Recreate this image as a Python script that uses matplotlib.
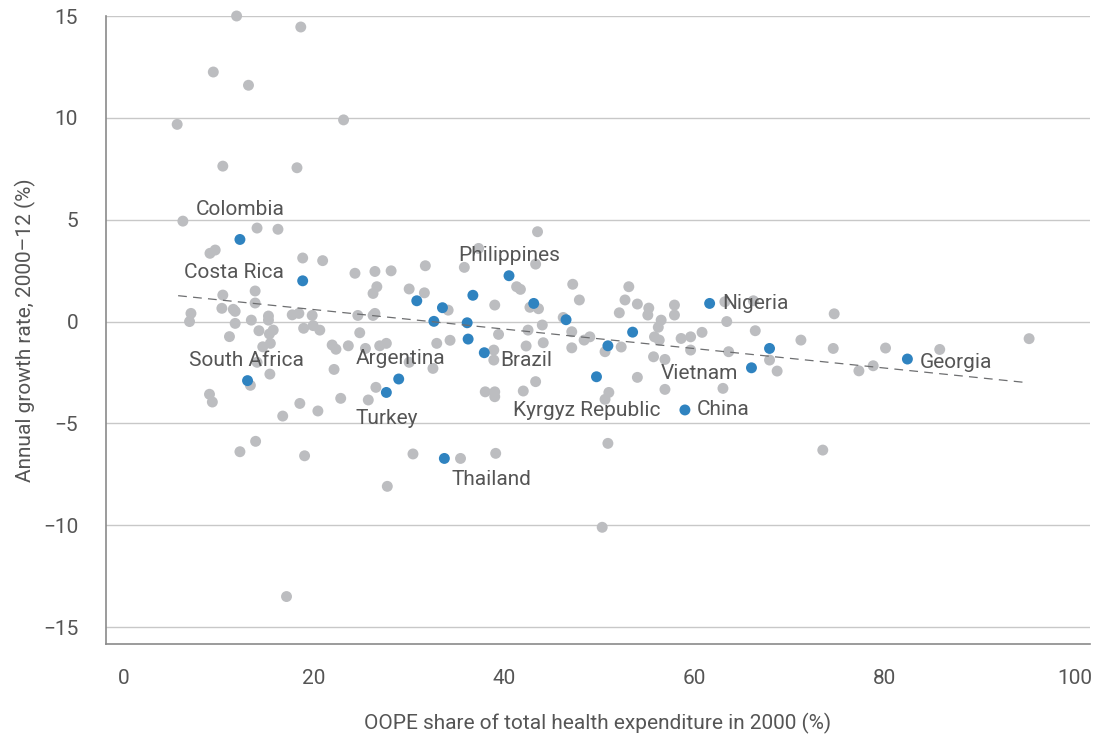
import matplotlib
matplotlib.use("Agg")
import matplotlib.pyplot as plt
from matplotlib import font_manager

# Condensed-looking family if available
names = {f.name for f in font_manager.fontManager.ttflist}
family = [n for n in ["Liberation Sans Narrow", "Roboto", "DejaVu Sans"] if n in names]
plt.rcParams["font.family"] = family

# Other countries: OOPE share in 2000 (%), annual growth rate 2000-12 (%)
other_x = [11.85, 18.6, 9.4, 13.1, 5.6, 23.1, 10.4, 18.2, 6.2, 14.0, 16.2,
           9.05, 9.6, 18.8, 20.9, 24.3, 26.4, 28.1, 26.6, 26.2, 10.4, 13.8,
           13.8, 10.3, 11.5, 11.7, 7.05, 6.9, 13.4, 15.2, 15.2, 11.7, 17.7,
           18.4, 19.8, 18.9, 19.9, 20.6, 24.6, 26.2, 26.4, 14.2, 15.7, 15.3,
           11.1, 24.8, 15.4, 14.6, 21.9, 22.3, 23.6, 25.4, 26.9, 27.6, 22.1,
           14.0, 15.35, 13.3, 9.0, 9.3, 18.5, 16.7, 20.4, 22.8, 25.7, 26.5,
           13.85, 12.2, 19.0, 27.7, 17.1,
           43.5, 37.3, 31.7, 35.8, 43.3, 41.3, 41.7, 30.0, 31.6, 34.1, 39.0,
           42.7, 43.6, 47.2, 47.9, 34.3, 32.9, 38.9, 38.9, 39.4, 44.0, 42.5,
           44.1, 42.3, 46.2, 47.1, 47.1, 48.4, 49.0, 50.6, 52.3, 54.0, 51.0,
           50.6, 50.9, 38.0, 39.0, 39.0, 42.0, 43.3, 32.5, 30.0, 30.4, 35.4,
           39.1, 52.7, 53.1, 52.1, 54.0, 55.2, 55.1, 56.5, 56.2, 57.9, 57.9,
           55.8, 56.3, 58.6, 59.6, 60.8, 59.6, 55.7, 56.9, 56.9, 63.0, 63.4,
           63.6, 63.2, 66.2, 74.7, 66.4, 71.2, 67.9, 68.7, 74.6, 80.1, 78.8,
           77.3, 85.8, 95.2, 73.5, 50.3]
other_y = [15.0, 14.46, 12.25, 11.6, 9.68, 9.9, 7.63, 7.55, 4.93, 4.59, 4.53,
           3.35, 3.51, 3.12, 2.99, 2.37, 2.46, 2.49, 1.71, 1.38, 1.30, 1.50,
           0.91, 0.65, 0.6, 0.5, 0.40, 0.0, 0.07, 0.27, 0.07, -0.09, 0.33,
           0.4, 0.3, -0.33, -0.2, -0.42, 0.30, 0.3, 0.4, -0.45, -0.42, -0.61,
           -0.74, -0.55, -1.07, -1.24, -1.15, -1.36, -1.19, -1.32, -1.19, -1.07, -2.35,
           -2.0, -2.58, -3.13, -3.57, -3.95, -4.02, -4.64, -4.39, -3.77, -3.85, -3.23,
           -5.88, -6.39, -6.59, -8.09, -13.5,
           4.41, 3.59, 2.74, 2.66, 2.82, 1.71, 1.58, 1.6, 1.41, 0.56, 0.81,
           0.70, 0.63, 1.83, 1.06, -0.92, -1.07, -1.40, -1.89, -0.63, -0.17, -0.42,
           -1.04, -1.20, 0.2, -0.5, -1.29, -0.91, -0.75, -1.48, -1.25, -2.74, -3.48,
           -3.82, -5.98, -3.45, -3.45, -3.69, -3.41, -2.95, -2.30, -2.0, -6.5, -6.72,
           -6.47, 1.06, 1.71, 0.43, 0.86, 0.66, 0.32, 0.07, -0.28, 0.81, 0.32,
           -0.75, -0.91, -0.83, -0.75, -0.53, -1.40, -1.73, -1.86, -3.33, -3.28, 0.0,
           -1.48, 0.97, 1.02, 0.38, -0.45, -0.91, -1.89, -2.43, -1.32, -1.30, -2.17,
           -2.42, -1.37, -0.84, -6.31, -10.1]

# Highlighted countries
hl_x = [12.2, 18.8, 13.0, 27.6, 28.9, 33.7, 40.5, 61.6, 66.0, 82.4, 59.0,
        49.7, 37.9, 30.8, 36.7, 33.5, 43.1, 32.6, 36.1, 36.2, 46.5, 50.9,
        53.5, 67.9]
hl_y = [4.03, 2.0, -2.9, -3.48, -2.82, -6.72, 2.25, 0.89, -2.27, -1.84, -4.34,
        -2.71, -1.53, 1.02, 1.29, 0.68, 0.89, 0.01, -0.06, -0.86, 0.09, -1.19,
        -0.52, -1.32]

# Country labels: text, x, y, horizontal alignment
label_text = ["Colombia", "Costa Rica", "Philippines", "Nigeria", "South Africa",
              "Argentina", "Brazil", "Turkey", "Vietnam", "Georgia",
              "Kyrgyz Republic", "China", "Thailand"]
label_x = [12.2, 11.6, 40.5, 62.9, 12.9, 29.1, 39.6, 27.6, 60.5, 83.7, 48.7, 60.25, 38.6]
label_y = [5.52, 2.43, 3.22, 0.9, -1.89, -1.8, -1.89, -4.74, -2.53, -1.99, -4.39, -4.34, -7.73]
label_ha = ["center", "center", "center", "left", "center", "center", "left",
            "center", "center", "left", "center", "left", "center"]

# Linear trend endpoints
trend_x = [5.7, 94.6]
trend_y = [1.27, -2.98]

x_ticks = [0, 20, 40, 60, 80, 100]
y_ticks = [-15, -10, -5, 0, 5, 10, 15]

GREY = "#bcbdc0"
BLUE = "#2f83c0"
TEXT = "#555555"

fig = plt.figure(figsize=(11.06, 7.34), dpi=100)
ax = fig.add_axes([0.0958, 0.1226, 0.8897, 0.8556])

ax.scatter(other_x, other_y, s=62, color=GREY, edgecolors="none", zorder=3, clip_on=False)
ax.scatter(hl_x, hl_y, s=62, color=BLUE, edgecolors="none", zorder=4, clip_on=False)
ax.plot(trend_x, trend_y, linestyle=(0, (7, 5)), color="#6d6e70", linewidth=0.9, zorder=5)

for t, x, y, ha in zip(label_text, label_x, label_y, label_ha):
    ax.text(x, y, t, ha=ha, va="center", fontsize=15, color=TEXT, zorder=6)

ax.set_xlim(-1.89, 101.6)
ax.set_ylim(-15.83, 15.0)
ax.set_xticks(x_ticks)
ax.set_yticks(y_ticks)
ax.set_xticklabels([str(v) for v in x_ticks])
ax.set_yticklabels([str(v).replace("-", "\u2212") for v in y_ticks])
ax.grid(axis="y", color="#c8c8c8", linewidth=1.0, zorder=0)
ax.set_axisbelow(True)
for side in ["top", "right"]:
    ax.spines[side].set_visible(False)
for side in ["left", "bottom"]:
    ax.spines[side].set_color("#8a8a8a")
    ax.spines[side].set_linewidth(1.2)
ax.tick_params(axis="both", length=0, labelsize=15, labelcolor=TEXT)
ax.tick_params(axis="x", pad=18)
ax.tick_params(axis="y", pad=20)

ax.set_xlabel("OOPE share of total health expenditure in 2000 (%)", fontsize=15,
              color=TEXT, labelpad=18)
ax.set_ylabel("Annual growth rate, 2000\u201312 (%)", fontsize=15, color=TEXT, labelpad=5)

fig.savefig("out.png", dpi=100)
